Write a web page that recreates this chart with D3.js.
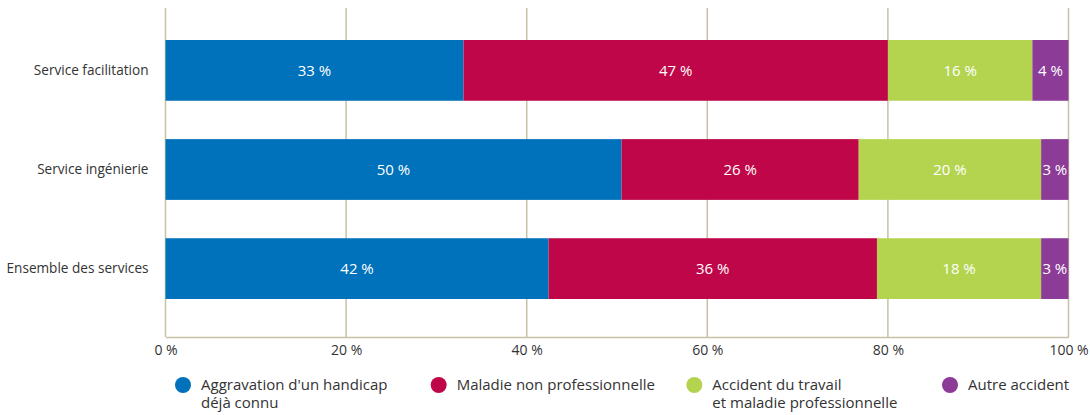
<!DOCTYPE html>
<html lang="fr">
<head>
<meta charset="utf-8">
<script src="https://cdn.jsdelivr.net/npm/d3@7"></script>
<style>
  html, body { margin: 0; padding: 0; background: #fff; }
  svg { display: block; }
  text { font-family: "Open Sans", "Noto Sans", sans-serif; }
</style>
</head>
<body>
<svg id="chart" width="1090" height="415"></svg>
<script>
// Répartition des origines de l'inaptitude, par service (en %)
const services = ["Service facilitation", "Service ingénierie", "Ensemble des services"];
const causes = [
  "Aggravation d'un handicap déjà connu",
  "Maladie non professionnelle",
  "Accident du travail et maladie professionnelle",
  "Autre accident"
];
const aggravation = [33, 50, 42];
const maladie = [47, 26, 36];
const accidentTravail = [16, 20, 18];
const autreAccident = [4, 3, 3];
const legendLines = [
  ["Aggravation d'un handicap", "déjà connu"],
  ["Maladie non professionnelle"],
  ["Accident du travail", "et maladie professionnelle"],
  ["Autre accident"]
];
const xTicks = [0, 0.2, 0.4, 0.6, 0.8, 1];
const colors = ["#0071bb", "#bf0648", "#b4d450", "#8c3b97"];

const seriesValues = [aggravation, maladie, accidentTravail, autreAccident];
const rows = services.map((s, i) => {
  const r = { service: s };
  causes.forEach((c, k) => { r[c] = seriesValues[k][i]; });
  return r;
});

const svg = d3.select("#chart");
const plotLeft = 165.5, plotRight = 1068.5, plotTop = 8, axisY = 337;

const x = d3.scaleLinear().domain([0, 1]).range([plotLeft, plotRight]);
const y = d3.scaleBand()
  .domain(services)
  .range([plotTop, 331])
  .paddingInner(0.387)
  .paddingOuter(0.323);

const stack = d3.stack().keys(causes).offset(d3.stackOffsetExpand);
const layers = stack(rows);

const gridColor = "#c6c1a6";
const textColor = "#333";

// Grille verticale
svg.append("g")
  .selectAll("line")
  .data(xTicks)
  .join("line")
  .attr("x1", d => x(d)).attr("x2", d => x(d))
  .attr("y1", plotTop).attr("y2", axisY)
  .attr("stroke", gridColor)
  .attr("stroke-width", 1.5);

// Barres empilées
const color = d3.scaleOrdinal().domain(causes).range(colors);
const g = svg.append("g");
layers.forEach(layer => {
  g.append("g")
    .attr("fill", color(layer.key))
    .selectAll("rect")
    .data(layer)
    .join("rect")
    .attr("x", d => x(d[0]))
    .attr("y", d => y(d.data.service))
    .attr("width", d => x(d[1]) - x(d[0]))
    .attr("height", y.bandwidth());

  g.append("g")
    .selectAll("text")
    .data(layer)
    .join("text")
    .attr("x", d => (x(d[0]) + x(d[1])) / 2)
    .attr("y", d => y(d.data.service) + y.bandwidth() / 2)
    .attr("dy", "0.36em")
    .attr("text-anchor", "middle")
    .attr("fill", "#fff")
    .attr("font-size", 15)
    .text(d => d.data[layer.key] + " %");
});

// Axe horizontal
const xAxis = d3.axisBottom(x)
  .tickValues(xTicks)
  .tickSize(0)
  .tickPadding(8)
  .tickFormat(d => Math.round(d * 100) + " %");
const ax = svg.append("g")
  .attr("transform", `translate(0,${axisY})`)
  .call(xAxis);
ax.select(".domain").attr("stroke", gridColor).attr("stroke-width", 1.5);
ax.selectAll("text")
  .attr("font-size", 14)
  .attr("fill", textColor)
  .attr("font-family", "'Open Sans', 'Noto Sans', sans-serif");

// Libellés des services
const yAxis = d3.axisLeft(y).tickSize(0).tickPadding(17);
const ay = svg.append("g")
  .attr("transform", `translate(${plotLeft},0)`)
  .call(yAxis);
ay.select(".domain").remove();
ay.selectAll("text")
  .attr("font-size", 13.6)
  .attr("fill", textColor)
  .attr("font-family", "'Open Sans', 'Noto Sans', sans-serif");

// Légende
const legendX = d3.scalePoint().domain(causes).range([183, 950]);
const leg = svg.append("g")
  .selectAll("g")
  .data(causes)
  .join("g")
  .attr("transform", d => `translate(${legendX(d)},385)`);
leg.append("circle")
  .attr("r", 8)
  .attr("fill", d => color(d));
leg.append("text")
  .attr("font-size", 15)
  .attr("fill", textColor)
  .selectAll("tspan")
  .data((d, i) => legendLines[i])
  .join("tspan")
  .attr("x", 18)
  .attr("y", (d, j) => 5 + j * 18)
  .text(d => d);
</script>
</body>
</html>
